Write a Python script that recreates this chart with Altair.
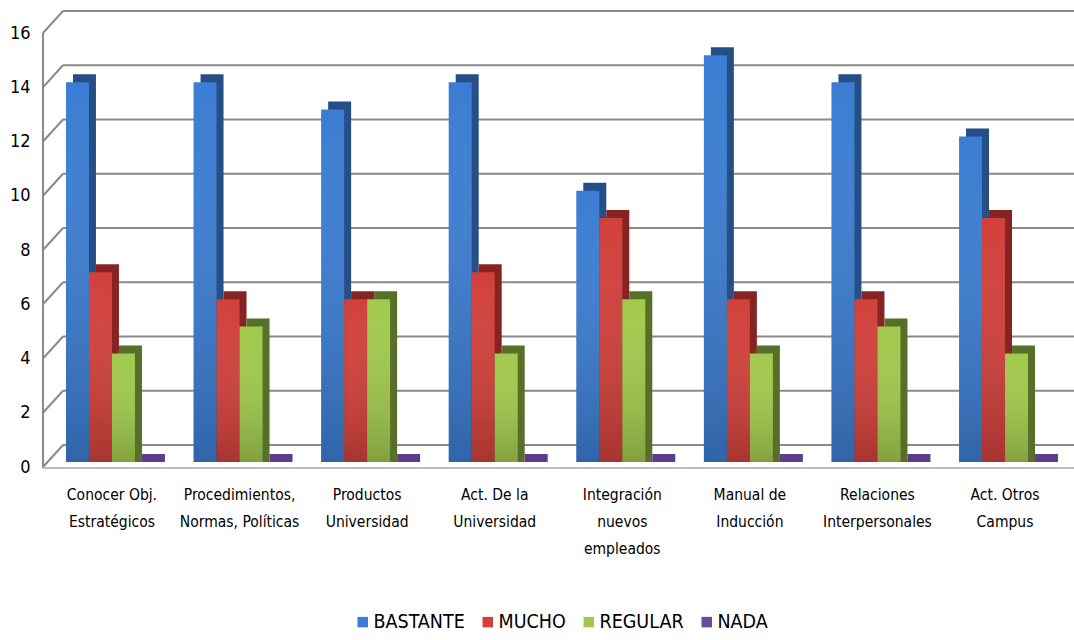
import altair as alt
import pandas as pd

categories = [
    "Conocer Obj.\nEstratégicos",
    "Procedimientos,\nNormas, Políticas",
    "Productos\nUniversidad",
    "Act. De la\nUniversidad",
    "Integración\nnuevos\nempleados",
    "Manual de\nInducción",
    "Relaciones\nInterpersonales",
    "Act. Otros\nCampus",
]
series = ["BASTANTE", "MUCHO", "REGULAR", "NADA"]
bastante = [14, 14, 13, 14, 10, 15, 14, 12]
mucho = [7, 6, 6, 7, 9, 6, 6, 9]
regular = [4, 5, 6, 4, 6, 4, 5, 4]
nada = [0, 0, 0, 0, 0, 0, 0, 0]
y_ticks = [0, 2, 4, 6, 8, 10, 12, 14, 16]

front_colors = ["#3b7dd2", "#d2403b", "#a2c94c", "#6a4a9a"]
dark_colors = ["#264f88", "#862424", "#566f29", "#5c3d8a"]

rows = []
for s, vals in zip(series, [bastante, mucho, regular, nada]):
    for c, v in zip(categories, vals):
        rows.append({"category": c, "series": s, "value": v})
df = pd.DataFrame(rows)
ticks_df = pd.DataFrame({"tick": y_ticks})

FONT = "Liberation Sans Narrow, Arial Narrow, DejaVu Sans Condensed, sans-serif"
W, H = 1031, 434
P_IN, P_OUT = 0.279, 0.18
DEPTH_X, DEPTH_Y = 7, 8

n = len(categories)
step = W / (n - P_IN + 2 * P_OUT)
bw = step * (1 - P_IN)

yscale = alt.Scale(domain=[0, 16], nice=False, zero=True)
X = alt.X(
    "category:N",
    sort=categories,
    scale=alt.Scale(paddingInner=P_IN, paddingOuter=P_OUT),
    axis=alt.Axis(
        title=None,
        labelExpr="split(datum.label, '\\n')",
        labelAngle=0,
        labelFont=FONT,
        labelFontSize=15.5,
        labelLineHeight=27,
        labelColor="#000000",
        labelPadding=25,
        ticks=False,
        domain=False,
        labelLimit=200,
    ),
)
XO_front = alt.XOffset("series:N", sort=series,
                       scale=alt.Scale(paddingInner=0, paddingOuter=0, range=[0, bw]))
XO_depth = alt.XOffset("series:N", sort=series,
                       scale=alt.Scale(paddingInner=0, paddingOuter=0, range=[DEPTH_X, bw + DEPTH_X]))
Yaxis = alt.Axis(
    title=None,
    values=y_ticks,
    labelFont=FONT,
    labelFontSize=18,
    labelColor="#000000",
    labelPadding=13,
    labelOffset=5,
    ticks=False,
    domain=False,
    grid=False,
)

grid = alt.Chart(ticks_df).mark_rule(color="#8a8a8a", strokeWidth=2, yOffset=-17).encode(
    y=alt.Y("tick:Q", scale=yscale, axis=Yaxis),
    x=alt.value(20),
    x2=alt.value(W),
)
diag = alt.Chart(ticks_df).mark_rule(color="#8a8a8a", strokeWidth=2, yOffset=5, y2Offset=-17).encode(
    y=alt.Y("tick:Q", scale=yscale, axis=Yaxis),
    y2="tick:Q",
    x=alt.value(0),
    x2=alt.value(20),
)
left_wall = alt.Chart(ticks_df).mark_rule(color="#8a8a8a", strokeWidth=2, yOffset=5, y2Offset=6).encode(
    y=alt.Y("max(tick):Q", scale=yscale, axis=Yaxis),
    y2="min(tick):Q",
    x=alt.value(0),
)
floor = alt.Chart(ticks_df).mark_rule(color="#bdbdbd", strokeWidth=2, yOffset=6).encode(
    y=alt.Y("min(tick):Q", scale=yscale, axis=Yaxis),
    x=alt.value(0),
    x2=alt.value(W),
)

depth = alt.Chart(df).mark_bar(yOffset=-DEPTH_Y, y2Offset=0).encode(
    x=X,
    xOffset=XO_depth,
    y=alt.Y("value:Q", scale=yscale, axis=Yaxis, stack=None),
    y2=alt.datum(0),
    color=alt.Color("series:N", scale=alt.Scale(domain=series, range=dark_colors), legend=None),
)
front = alt.Chart(df).mark_bar().encode(
    x=X,
    xOffset=XO_front,
    y=alt.Y("value:Q", scale=yscale, axis=Yaxis, stack=None),
    y2=alt.datum(0),
    color=alt.Color(
        "series:N",
        sort=series,
        scale=alt.Scale(domain=series, range=front_colors),
        legend=alt.Legend(
            title=None,
            orient="none",
            direction="horizontal",
            legendX=310,
            legendY=584,
            symbolType="square",
            symbolSize=110,
            symbolStrokeWidth=0,
            labelFont=FONT,
            labelFontSize=19.5,
            labelColor="#000000",
            labelOffset=1,
            columnPadding=13,
        ),
    ),
)
shade = alt.Chart(df).mark_bar(
    color=alt.LinearGradient(
        gradient="linear",
        stops=[
            alt.GradientStop(color="rgba(255,255,255,0.0)", offset=0),
            alt.GradientStop(color="rgba(0,0,0,0.2)", offset=1),
        ],
        x1=0, x2=0, y1=0, y2=1,
    )
).encode(
    x=X,
    xOffset=XO_front,
    y=alt.Y("value:Q", scale=yscale, axis=Yaxis, stack=None),
    y2=alt.datum(0),
)

chart = (
    alt.layer(grid, diag, left_wall, floor, depth, front, shade)
    .resolve_scale(color="independent", xOffset="independent")
    .properties(
        width=W,
        height=H,
        autosize=alt.AutoSizeParams(type="none"),
        padding={"left": 43, "top": 28, "right": 0, "bottom": 178},
        background="#ffffff",
    )
    .configure_view(stroke=None)
)

chart.save("out.html", embed_options={"renderer": "svg", "actions": False})
